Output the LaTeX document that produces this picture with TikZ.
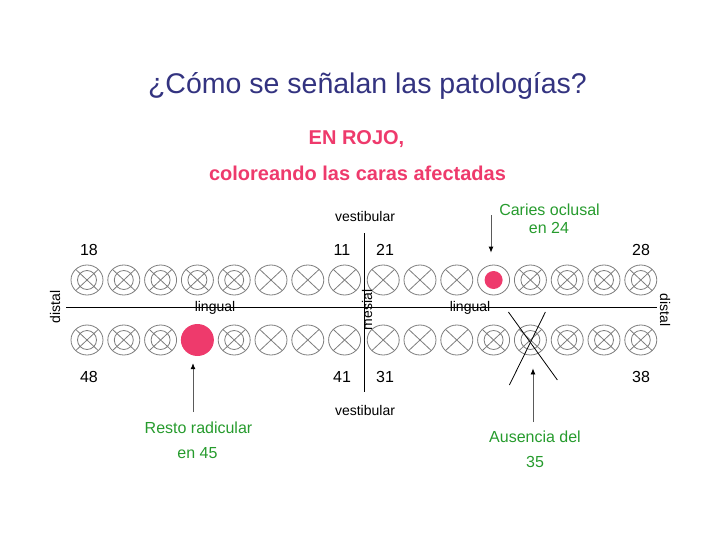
\documentclass[tikz,border=0pt]{standalone}
\usepackage{fontspec}
\setmainfont{Liberation Sans}
\usetikzlibrary{positioning,shapes.geometric,arrows.meta}
\definecolor{rojo}{RGB}{238,58,108}
\definecolor{verde}{RGB}{38,155,45}
\definecolor{azul}{RGB}{51,51,128}
\definecolor{diente}{RGB}{125,125,125}
\definecolor{flecha}{RGB}{90,90,90}

\begin{document}
\begin{tikzpicture}[x=1pt,y=-1pt]
\tikzstyle{every node}+=[inner sep=0pt]
\tikzstyle{tooth}=[ellipse,draw=diente,line width=0.8pt,minimum width=32pt,minimum height=30pt]
\tikzstyle{incisor}=[tooth,path picture={\draw[diente,line width=0.8pt] (path picture bounding box.north west) -- (path picture bounding box.south east) (path picture bounding box.north east) -- (path picture bounding box.south west);}]
\tikzstyle{molar}=[tooth,path picture={\draw[diente,line width=0.8pt] (path picture bounding box.north west) -- (path picture bounding box.south east) (path picture bounding box.north east) -- (path picture bounding box.south west) (path picture bounding box.center) circle (9.5);}]
\tikzstyle{caries}=[tooth,path picture={\fill[rojo] (path picture bounding box.center) circle (9);}]
\tikzstyle{resto}=[ellipse,fill=rojo,minimum width=33pt,minimum height=32pt]
\tikzstyle{num}=[anchor=base,font=\fontsize{16}{19}\selectfont]
\tikzstyle{small}=[anchor=base,font=\fontsize{14}{17}\selectfont]
\tikzstyle{nota}=[anchor=base,text=verde,font=\fontsize{16}{19}\selectfont]
\tikzstyle{pointer}=[draw=flecha,line width=0.8pt,-{Latex[black,length=6pt,width=5pt]}]
\useasboundingbox (0,0) rectangle (728,546);
% headings
\node[anchor=base,text=azul,font=\fontsize{28.5}{34}\selectfont] (titulo) at (367.5,93) {¿Cómo se señalan las patologías?};
\node[anchor=base,text=rojo,font=\fontsize{20}{24}\selectfont\bfseries] (rojo) at (356.5,144) {EN ROJO,};
\node[anchor=base,text=rojo,font=\fontsize{20}{24}\selectfont\bfseries] (caras) at (357.5,180) {coloreando las caras afectadas};
% axes
\coordinate (izq) at (66,307);
\coordinate (der) at (657,307);
\coordinate (arriba) at (364,233);
\coordinate (abajo) at (364,392);
\draw [black,line width=0.9pt] (izq) -- (der);
\draw [black,line width=0.9pt] (arriba) -- (abajo);
% teeth
\foreach \n/\s [count=\k] in {18/molar,17/molar,16/molar,15/molar,14/molar,13/incisor,12/incisor,11/incisor}
  \node[\s] (t\n) at ({87+(\k-1)*36.8},280) {};
\foreach \n/\s [count=\k] in {21/incisor,22/incisor,23/incisor,24/caries,25/molar,26/molar,27/molar,28/molar}
  \node[\s] (t\n) at ({383.2+(\k-1)*36.8},280) {};
\foreach \n/\s [count=\k] in {48/molar,47/molar,46/molar,45/resto,44/molar,43/incisor,42/incisor,41/incisor}
  \node[\s] (t\n) at ({87+(\k-1)*36.8},340) {};
\foreach \n/\s [count=\k] in {31/incisor,32/incisor,33/incisor,34/molar,35/molar,36/molar,37/molar,38/molar}
  \node[\s] (t\n) at ({383.2+(\k-1)*36.8},340) {};
\draw [black,line width=0.8pt] ([shift={(-22,-28)}]t35.center) -- ([shift={(27,40)}]t35.center);
\draw [black,line width=0.8pt] ([shift={(15,-28)}]t35.center) -- ([shift={(-21,45)}]t35.center);
% labels
\node[num] (n18) at (89,255) {18};
\node[num] (n11) at (342,255) {11};
\node[num] (n21) at (385,255) {21};
\node[num] (n28) at (641,255) {28};
\node[num] (n48) at (89,382) {48};
\node[num] (n41) at (342,382) {41};
\node[num] (n31) at (385,382) {31};
\node[num] (n38) at (641,382) {38};
\node[small] (vest1) at (365,221) {vestibular};
\node[small] (vest2) at (365,415) {vestibular};
\node[small] (ling1) at (215,311) {lingual};
\node[small] (ling2) at (470,311) {lingual};
\node[small,anchor=center,rotate=90] (dist1) at (55,307) {distal};
\node[small,anchor=center,rotate=-90] (dist2) at (665,310) {distal};
\node[small,anchor=center,rotate=90] (mesial) at (367,310) {mesial};
% notes
\node[nota] (caries1) at (549.5,215) {Caries oclusal};
\node[nota] (caries2) at (549,233) {en 24};
\node[nota] (resto1) at (198.5,433) {Resto radicular};
\node[nota] (resto2) at (197.5,458) {en 45};
\node[nota] (aus1) at (535,442) {Ausencia del};
\node[nota] (aus2) at (535,467) {35};
\coordinate (p24) at (491,215);
\coordinate (p45) at (193,412);
\coordinate (p35) at (533,422);
\draw [pointer,shorten >=12pt] (p24) -- (p24 |- t24.north);
\draw [pointer,shorten >=7pt] (p45) -- (p45 |- t45.south);
\draw [pointer,shorten >=13pt] (p35) -- (p35 |- t35.south);
\end{tikzpicture}
\end{document}
